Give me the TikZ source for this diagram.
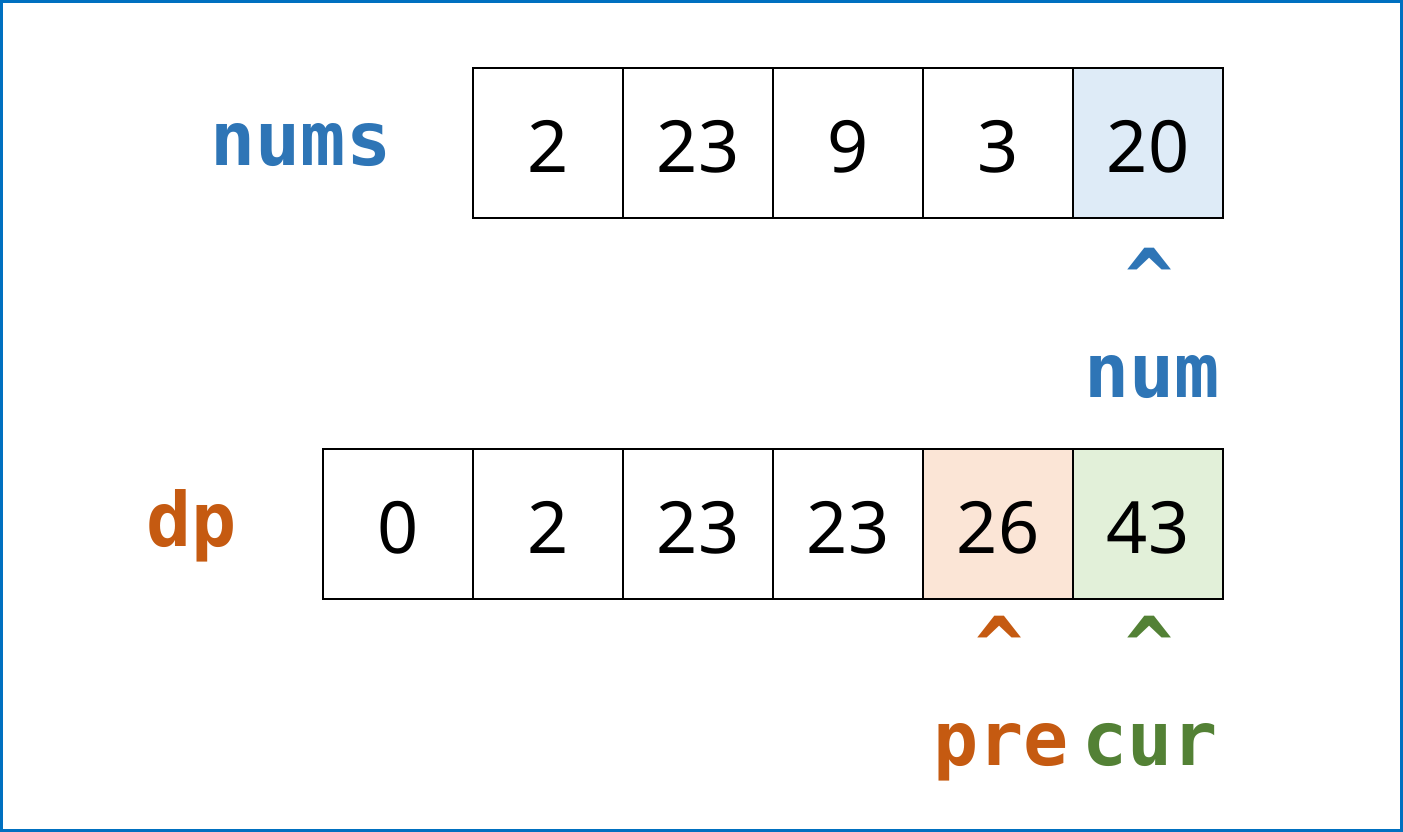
\documentclass[tikz,border=0pt]{standalone}
\usepackage{fontspec}
\setmainfont{Noto Sans}
\newfontfamily\labfont{DejaVu Sans Mono}
\definecolor{frameblue}{HTML}{0070C0}
\definecolor{lblue}{HTML}{2E75B6}
\definecolor{lorange}{HTML}{C55A11}
\definecolor{lgreen}{HTML}{538135}
\definecolor{fblue}{HTML}{DEEBF7}
\definecolor{forange}{HTML}{FBE5D6}
\definecolor{fgreen}{HTML}{E2F0D9}
\tikzset{
  cell/.style={draw=black, line width=1.6pt, minimum width=150pt, minimum height=150pt, inner sep=0pt, outer sep=0pt, font=\fontsize{72}{72}\selectfont, anchor=north west},
  lab/.style={font=\labfont\bfseries\fontsize{75}{75}\selectfont, anchor=base, inner sep=0pt},
  caret/.style={font=\labfont\bfseries\fontsize{80}{80}\selectfont, anchor=base, inner sep=0pt},
}
\begin{document}
\begin{tikzpicture}[x=1pt,y=-1pt]
\useasboundingbox (0,0) rectangle (1403,832);
\draw[frameblue, line width=3pt] (1.5,1.5) rectangle (1401.5,830.5);
% top array
\foreach \v [count=\i from 0] in {2,23,9,3} {
  \node[cell] (n\i) at (473+150*\i,68) {};
  \node[anchor=base, font=\fontsize{72}{72}\selectfont, inner sep=0pt] at (548+150*\i,172) {\v};
}
\node[cell, fill=fblue] (n4) at (1073,68) {};
\node[anchor=base, font=\fontsize{72}{72}\selectfont, inner sep=0pt] at (1148,172) {20};
% bottom array
\foreach \v [count=\i from 0] in {0,2,23,23} {
  \node[cell] (d\i) at (323+150*\i,449) {};
  \node[anchor=base, font=\fontsize{72}{72}\selectfont, inner sep=0pt] at (398+150*\i,553) {\v};
}
\node[cell, fill=forange] (d4) at (923,449) {};
\node[anchor=base, font=\fontsize{72}{72}\selectfont, inner sep=0pt] at (998,553) {26};
\node[cell, fill=fgreen] (d5) at (1073,449) {};
\node[anchor=base, font=\fontsize{72}{72}\selectfont, inner sep=0pt] at (1148,553) {43};
% labels
\node[lab, text=lblue] (lnums) at (301,165) {nums};
\node[lab, text=lorange] (ldp) at (192,546) {dp};
\node[caret, text=lblue] (c1) at (1150,306) {\^{}};
\node[lab, text=lblue] (lnum) at (1152,397) {num};
\node[caret, text=lorange] (c2) at (1000,674) {\^{}};
\node[caret, text=lgreen] (c3) at (1150,674) {\^{}};
\node[lab, text=lorange] (lpre) at (1001,765) {pre};
\node[lab, text=lgreen] (lcur) at (1150,765) {cur};
\end{tikzpicture}
\end{document}
